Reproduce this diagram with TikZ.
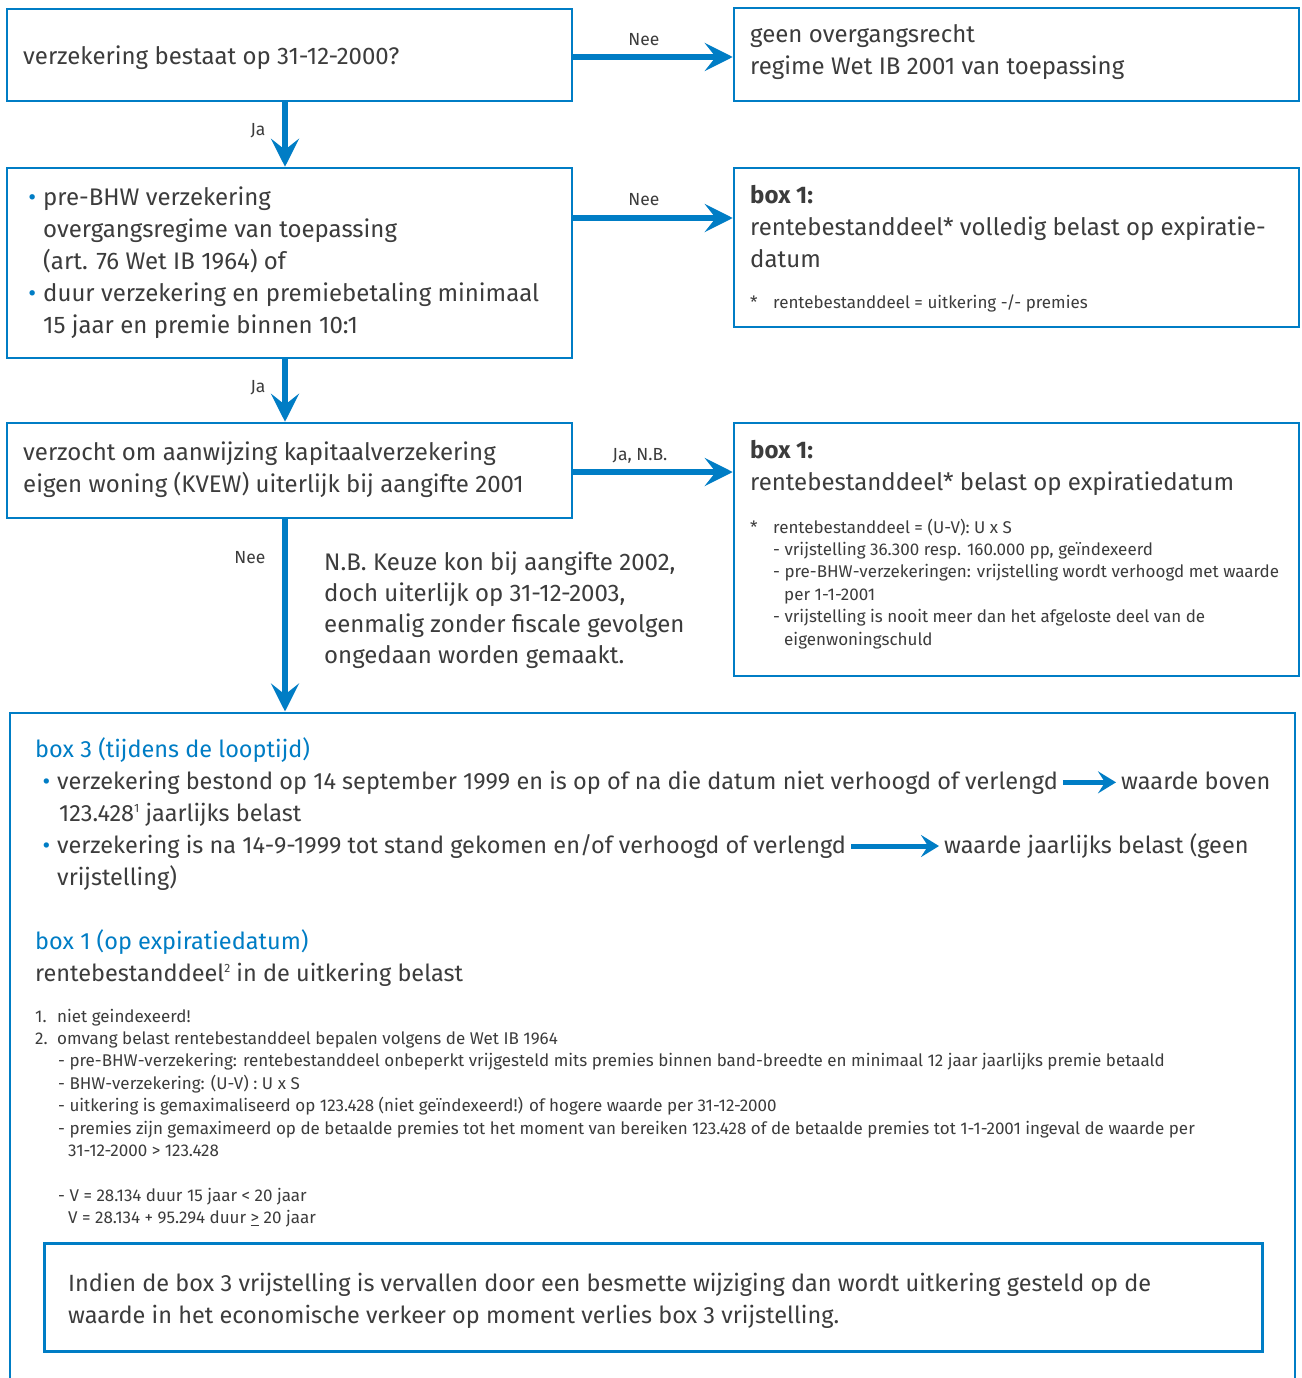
\documentclass[tikz,border=0pt]{standalone}
\usepackage{fontspec}
\setmainfont{Fira Sans}
\usetikzlibrary{arrows.meta,calc}
\definecolor{bl}{RGB}{0,125,197}
\definecolor{tx}{RGB}{60,60,60}
\newcommand\bul{\llap{\textcolor{bl}{•}\hspace{7pt}}}
\newcommand\supr[1]{\raisebox{9pt}{\fontsize{12}{12}\selectfont #1}}
\tikzset{
  box/.style={draw=bl, line width=2.5pt, inner sep=0pt},
  arr/.style={draw=bl, line width=6pt, -{Stealth[length=28pt,width=28pt,inset=11pt]}},
  iarr/.style={draw=bl, line width=5pt, -{Stealth[length=18pt,width=22pt,inset=7pt]}},
  t/.style={anchor=base west, inner sep=0pt, text=tx, font=\fontsize{24}{32}\selectfont, align=left},
  tb/.style={anchor=base west, inner sep=0pt, text=tx, font=\fontsize{23.5}{32}\selectfont, align=left},
  s/.style={anchor=base west, inner sep=0pt, text=tx, font=\fontsize{17}{22.4}\selectfont, align=left},
  lab/.style={inner sep=0pt, text=tx, font=\fontsize{17.5}{18}\selectfont},
}
\begin{document}
\begin{tikzpicture}[x=1pt,y=-1pt]
\useasboundingbox[fill=white] (0,0) rectangle (1301,1378);

% boxes
\node[box, minimum width=565pt, minimum height=92pt] (A) at (289.5,55) {};
\node[box, minimum width=565pt, minimum height=93pt] (B) at (1016.5,54.5) {};
\node[box, minimum width=565pt, minimum height=190pt] (C) at (289.5,263) {};
\node[box, minimum width=565pt, minimum height=159pt] (D) at (1016.5,247.5) {};
\node[box, minimum width=565pt, minimum height=95pt] (E) at (289.5,470.5) {};
\node[box, minimum width=565pt, minimum height=253pt] (F) at (1016.5,549.5) {};
\node[box, line width=3pt, minimum width=1218pt, minimum height=108pt] (H) at (653,1297) {};
\draw[draw=bl, line width=2.5pt] (10,1380) -- (10,713) -- (1295,713) -- (1295,1380);
\coordinate (Gtop) at (285,711.5);

% connectors
\draw[arr] (A.east |- 0,57) -- (B.west |- 0,57);
\draw[arr] (A.south -| 285,0) -- (C.north -| 285,0);
\draw[arr] (C.east |- 0,218) -- (D.west |- 0,218);
\draw[arr] (C.south -| 285,0) -- (E.north -| 285,0);
\draw[arr] (E.east |- 0,472) -- (F.west |- 0,472);
\draw[arr] (E.south -| 285,0) -- (Gtop);

\node[lab] (l1) at (644,40) {Nee};
\node[lab] (l2) at (258,131) {Ja};
\node[lab] (l3) at (644,200) {Nee};
\node[lab] (l4) at (258,388) {Ja};
\node[lab] (l5) at (640,456) {Ja, N.B.};
\node[lab] (l6) at (250,558) {Nee};

% texts (base anchor = baseline of last line)
\node[t] (tA) at (23,65) {verzekering bestaat op 31-12-2000?};
\node[t] (tB) at (750,75) {geen overgangsrecht\\regime Wet IB 2001 van toepassing};
\node[t] (tC) at (43,333) {\bul pre-BHW verzekering\\overgangsregime van toepassing\\(art. 76 Wet IB 1964) of\\\bul duur verzekering en premiebetaling minimaal\\15 jaar en premie binnen 10:1};
\node[t] (tD) at (750,267) {\textbf{box 1:}\\rentebestanddeel* volledig belast op expiratie-\\datum};
\node[s] (fD) at (750,308) {\makebox[23pt][l]{*}rentebestanddeel = uitkering -/- premies};
\node[t] (tE) at (23,492) {verzocht om aanwijzing kapitaalverzekering\\eigen woning (KVEW) uiterlijk bij aangifte 2001};
\node[t, font=\fontsize{24}{31}\selectfont] (nb) at (324,663) {N.B. Keuze kon bij aangifte 2002,\\doch uiterlijk op 31-12-2003,\\eenmalig zonder fiscale gevolgen\\ongedaan worden gemaakt.};
\node[t] (tF) at (750,490) {\textbf{box 1:}\\rentebestanddeel* belast op expiratiedatum};
\node[s] (fF) at (750,645) {\makebox[23pt][l]{*}rentebestanddeel = (U-V): U x S\\
\hspace{23pt}- vrijstelling 36.300 resp. 160.000 pp, geïndexeerd\\
\hspace{23pt}- pre-BHW-verzekeringen: vrijstelling wordt verhoogd met waarde\\
\hspace{34pt}per 1-1-2001\\
\hspace{23pt}- vrijstelling is nooit meer dan het afgeloste deel van de\\
\hspace{34pt}eigenwoningschuld};

% big box content
\node[tb, text=bl] (h3) at (35,757) {box 3 (tijdens de looptijd)};
\node[tb] (b1a) at (57,789) {\bul verzekering bestond op 14 september 1999 en is op of na die datum niet verhoogd of verlengd};
\node[tb] (b1b) at (1121,789) {waarde boven};
\node[tb] (b1c) at (59,821) {123.428\supr{1} jaarlijks belast};
\draw[iarr] ([xshift=5pt]b1a.east) -- ([xshift=-5pt]b1b.west |- b1a.east);
\node[tb] (b2a) at (57,853) {\bul verzekering is na 14-9-1999 tot stand gekomen en/of verhoogd of verlengd};
\node[tb] (b2b) at (944,853) {waarde jaarlijks belast (geen};
\node[tb] (b2c) at (57,885) {vrijstelling)};
\draw[iarr] ([xshift=5pt]b2a.east) -- ([xshift=-5pt]b2b.west |- b2a.east);

\node[tb, text=bl] (h1) at (35,949) {box 1 (op expiratiedatum)};
\node[tb] (r1) at (35,981) {rentebestanddeel\supr{2} in de uitkering belast};

\node[s] (fn) at (35,1156.4) {\makebox[22pt][l]{1.}niet geindexeerd!\\
\makebox[22pt][l]{2.}omvang belast rentebestanddeel bepalen volgens de Wet IB 1964\\
\hspace{23pt}- pre-BHW-verzekering: rentebestanddeel onbeperkt vrijgesteld mits premies binnen band-breedte en minimaal 12 jaar jaarlijks premie betaald\\
\hspace{23pt}- BHW-verzekering: (U-V) : U x S\\
\hspace{23pt}- uitkering is gemaximaliseerd op 123.428 (niet geïndexeerd!) of hogere waarde per 31-12-2000\\
\hspace{23pt}- premies zijn gemaximeerd op de betaalde premies tot het moment van bereiken 123.428 of de betaalde premies tot 1-1-2001 ingeval de waarde per\\
\hspace{33pt}31-12-2000 > 123.428};
\node[s] (fv) at (58,1223.4) {- V = 28.134 duur 15 jaar < 20 jaar\\
\hspace{10pt}V = 28.134 + 95.294 duur \underline{>} 20 jaar};

\node[tb] (tH) at (68,1323) {Indien de box 3 vrijstelling is vervallen door een besmette wijziging dan wordt uitkering gesteld op de\\waarde in het economische verkeer op moment verlies box 3 vrijstelling.};
\end{tikzpicture}
\end{document}
